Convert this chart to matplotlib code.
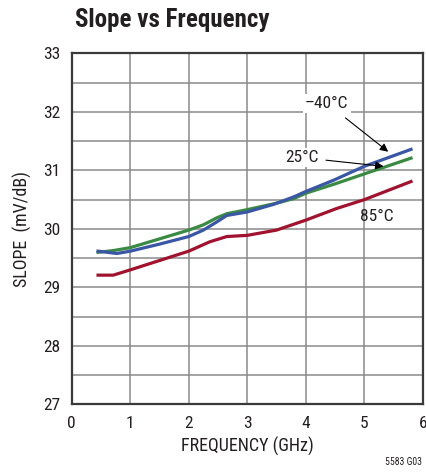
import matplotlib.pyplot as plt

# slope vs frequency
freq_m40 = [0.45, 0.77, 1.0, 1.5, 2.0, 2.25, 2.48, 2.65, 3.0, 3.45, 3.8, 4.0, 4.47, 5.0, 5.8]
slope_m40 = [29.62, 29.58, 29.62, 29.74, 29.87, 29.98, 30.12, 30.23, 30.29, 30.42, 30.55, 30.64, 30.83, 31.07, 31.36]

freq_25 = [0.45, 0.71, 1.0, 1.5, 2.0, 2.25, 2.48, 2.65, 3.0, 3.5, 3.8, 4.0, 4.53, 5.0, 5.8]
slope_25 = [29.60, 29.63, 29.68, 29.83, 29.98, 30.07, 30.19, 30.26, 30.33, 30.44, 30.52, 30.61, 30.78, 30.94, 31.21]

freq_85 = [0.45, 0.71, 1.0, 1.5, 2.0, 2.36, 2.65, 3.0, 3.5, 4.0, 4.53, 5.0, 5.8]
slope_85 = [29.21, 29.21, 29.30, 29.46, 29.62, 29.78, 29.87, 29.89, 29.98, 30.15, 30.35, 30.50, 30.81]

xticks = [0, 1, 2, 3, 4, 5, 6]
yticks = [27, 28, 29, 30, 31, 32, 33]

plt.rcParams['font.family'] = ['Roboto Condensed', 'DejaVu Sans']
plt.rcParams['font.stretch'] = 'condensed'

fig = plt.figure(figsize=(4.27, 4.73), dpi=100)
ax = fig.add_axes([0.168, 0.145, 0.822, 0.742])

ax.plot(freq_85, slope_85, color='#a0122e', lw=2.3, zorder=3)
ax.plot(freq_25, slope_25, color='#3a8a44', lw=2.3, zorder=3)
ax.plot(freq_m40, slope_m40, color='#3a57a6', lw=2.3, zorder=4)

ax.set_xlim(0, 6)
ax.set_ylim(27, 33)
ax.set_xticks(xticks)
ax.set_yticks(yticks)
ax.set_yticks([27.5 + i for i in range(6)], minor=True)
ax.grid(True, which='both', color='#8a8a8a', lw=1.1, zorder=1)
ax.tick_params(which='both', length=0, labelsize=12.5, pad=8.5, labelcolor='#231f20')
for s in ax.spines.values():
    s.set_color('#3a3a3a')
    s.set_linewidth(1.6)

ax.set_xlabel('FREQUENCY (GHz)', fontsize=13, labelpad=4, color='#231f20')
ax.set_ylabel('SLOPE  (mV/dB)', fontsize=13, labelpad=8, color='#231f20')

box = dict(facecolor='white', edgecolor='none', pad=1.5)
ax.annotate('\u201340\u00b0C', xy=(5.41, 31.32), xytext=(4.36, 32.15),
            ha='center', va='center', fontsize=12.5, bbox=box, color='#231f20',
            arrowprops=dict(arrowstyle='-|>', color='black', lw=0.8,
                            shrinkA=6, shrinkB=0, mutation_scale=12), zorder=5)
ax.annotate('25\u00b0C', xy=(5.33, 31.07), xytext=(3.93, 31.22),
            ha='center', va='center', fontsize=12.5, bbox=box, color='#231f20',
            arrowprops=dict(arrowstyle='-|>', color='black', lw=0.8,
                            shrinkA=4, shrinkB=0, mutation_scale=12), zorder=5)
ax.text(5.21, 30.21, '85\u00b0C', ha='center', va='center', fontsize=12.5,
        color='#231f20', zorder=5)

fig.text(0.175, 0.958, 'Slope vs Frequency', fontsize=18, fontweight='bold',
         ha='left', va='center', color='#231f20')
fig.text(0.988, 0.012, '5583 G03', fontsize=7, ha='right', va='bottom', color='#231f20')

plt.savefig('out.png', dpi=100)
